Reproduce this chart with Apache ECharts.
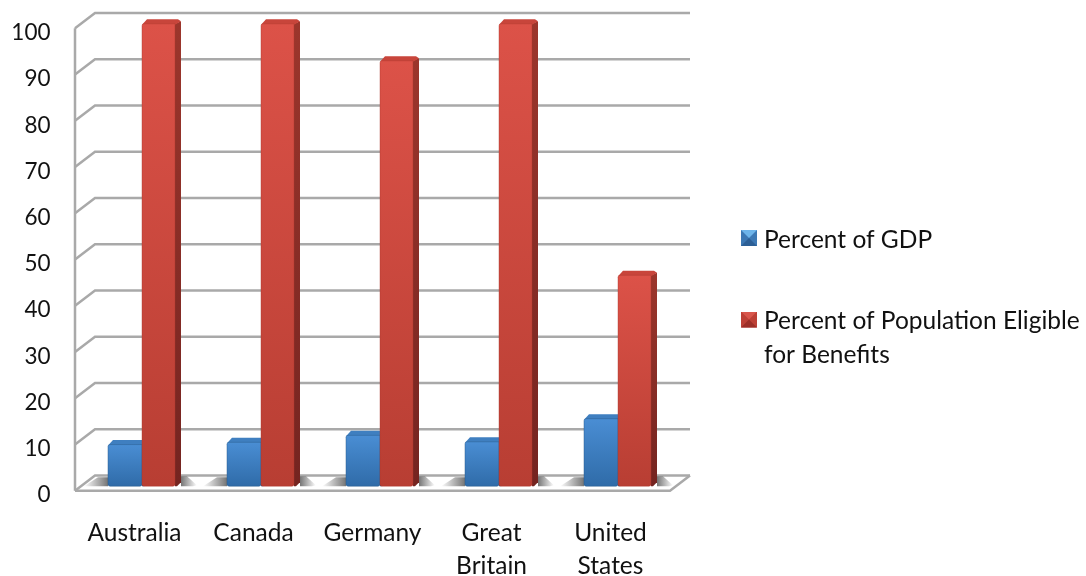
<!DOCTYPE html>
<html><head><meta charset="utf-8">
<style>html,body{margin:0;padding:0;background:#fff}#c{width:1086px;height:576px}</style>
<script src="https://cdn.jsdelivr.net/npm/echarts@6/dist/echarts.min.js"></script>
</head><body><div id="c"></div>
<script>
const categories = ['Australia','Canada','Germany','Great\nBritain','United\nStates'];
const gdp = [9, 9.5, 11, 9.6, 14.6];
const eligible = [100, 100, 92, 100, 45.6];
const gridValues = [0,10,20,30,40,50,60,70,80,90,100];
const gdpName = 'Percent of GDP';
const eligibleName = 'Percent of Population Eligible\nfor Benefits';

const DX = 20, DY = 15.2, WALL = '#a9a9a9', FONT = 'Lato, "Open Sans", sans-serif';
const chart = echarts.init(document.getElementById('c'), null, {renderer:'canvas'});
const vg = (a,b) => new echarts.graphic.LinearGradient(0,0,0,1,[{offset:0,color:a},{offset:1,color:b}]);
const hg = (a,b) => new echarts.graphic.LinearGradient(0,0,1,0,[{offset:0,color:a},{offset:1,color:b}]);

function wallItem(params, api){
  const v = api.value(0), c = api.coord([0, v]), y = c[1];
  const cs = params.coordSys, x0 = cs.x, x1 = cs.x + cs.width;
  const st = {stroke:WALL, lineWidth:2.5, fill:null};
  const kids = [{type:'polyline', shape:{points:[[x0,y],[x0+DX,y-DY],[x1+DX,y-DY]]}, style:st}];
  if (v === 0) {
    kids.push({type:'polyline', shape:{points:[[x0,y],[x1,y],[x1+DX,y-DY]]}, style:st});
    kids.push({type:'line', shape:{x1:x0,y1:y,x2:x0,y2:cs.y}, style:st});
  }
  return {type:'group', children:kids};
}
function shadowItem(params, api){
  const c = api.coord([api.value(0), 0]), base = c[1]-4.5;
  const left = c[0]-26.5, right = c[0]+46.5;
  return {type:'group', children:[
    {type:'polygon', shape:{points:[[left-24,base],[left-10,base-9],[left,base-9],[left,base]]},
     style:{fill:hg('rgba(110,110,110,0)','rgba(110,110,110,0.95)')}},
    {type:'polygon', shape:{points:[[right,base-10],[right+6,base-10],[right+16,base-1],[right+12,base],[right,base]]},
     style:{fill:hg('rgba(110,110,110,0.95)','rgba(110,110,110,0)')}}
  ]};
}
function barRenderer(off, w, cols){
  return function(params, api){
    const c = api.coord([api.value(0), api.value(1)]);
    const b = api.coord([api.value(0), 0]);
    const x = c[0]+off, yT = c[1]-4.5, yB = b[1]-4.5, s = 6, t = 4.5;
    return {type:'group', children:[
      {type:'polygon', shape:{points:[[x+w,yT],[x+w+s,yT-t+2],[x+w+s,yB-4],[x+w+2,yB],[x+w,yB]]},
       style:{fill:vg(cols.side[0],cols.side[1])}},
      {type:'polygon', shape:{points:[[x,yT+1],[x+5,yT-t],[x+w+3,yT-t],[x+w+s,yT-t+2],[x+w,yT+1]]},
       style:{fill:cols.top}},
      {type:'rect', shape:{x:x,y:yT,width:w,height:yB-yT,r:[2,0,2,2]},
       style:{fill:vg(cols.front[0],cols.front[1]), stroke:cols.edge, lineWidth:0.8}}
    ]};
  };
}
const blueCols = {front:['#4a8ed4','#2f6ba8'], side:['#2c5f96','#234d7c'], top:'#3f7fc0', edge:'rgba(40,90,140,0.6)'};
const redCols = {front:['#dc5248','#b83e33'], side:['#9c362c','#742420'], top:'#c8453b', edge:'rgba(170,55,45,0.5)'};
const icon = (top, mid, bot) => 'image://data:image/svg+xml;utf8,' + encodeURIComponent(
  `<svg xmlns="http://www.w3.org/2000/svg" width="36" height="40"><rect width="32" height="32" fill="${mid}"/>`+
  `<polygon points="0,0 32,0 16,16" fill="${top}"/><polygon points="0,32 32,32 16,16" fill="${bot}"/></svg>`);

chart.setOption({
  animation:false,
  backgroundColor:'#fff',
  textStyle:{fontFamily:FONT},
  grid:{left:75, right:416, top:28.3, bottom:85.3, containLabel:false, outerBoundsMode:'none'},
  xAxis:{type:'category', data:categories, axisLine:{show:false}, axisTick:{show:false},
    axisLabel:{interval:0, margin:26, color:'#111', fontSize:24.5, lineHeight:33, fontFamily:FONT}},
  yAxis:{type:'value', min:0, max:100, interval:10, axisLine:{show:false}, axisTick:{show:false}, splitLine:{show:false},
    axisLabel:{margin:24.5, color:'#111', fontSize:22.5, fontFamily:FONT, align:'right', verticalAlign:'top', lineHeight:9}},
  legend:[
    {orient:'vertical', left:741, top:223, itemWidth:18, itemHeight:20, itemGap:0, padding:0,
     textStyle:{fontSize:24.5, color:'#111', fontFamily:FONT, lineHeight:34},
     data:[{name:gdpName, icon:icon('#6db4ea','#3c78b4','#2c5f96')}]},
    {orient:'vertical', left:741, top:270.5, itemWidth:18, itemHeight:20, itemGap:0, padding:0,
     formatter:n => '\n' + n,
     textStyle:{fontSize:24.5, color:'#111', fontFamily:FONT, lineHeight:34},
     data:[{name:eligibleName, icon:icon('#d9564c','#bd4036','#9c2f28')}]}
  ],
  series:[
    {type:'custom', name:'walls', silent:true, data:gridValues.map(v=>[v]), encode:{y:0}, renderItem:wallItem, z:1, clip:false},
    {type:'custom', name:'shadows', silent:true, data:categories.map((c,i)=>[i]), encode:{x:0}, renderItem:shadowItem, z:2, clip:false},
    {type:'custom', name:gdpName, data:gdp.map((v,i)=>[i,v]), encode:{x:0,y:1}, itemStyle:{color:'#3c78b4'},
     renderItem:barRenderer(-26.5,34,blueCols), z:3, clip:false},
    {type:'custom', name:eligibleName, data:eligible.map((v,i)=>[i,v]), encode:{x:0,y:1}, itemStyle:{color:'#bd4036'},
     renderItem:barRenderer(7.5,33,redCols), z:4, clip:false}
  ]
});
</script></body></html>
